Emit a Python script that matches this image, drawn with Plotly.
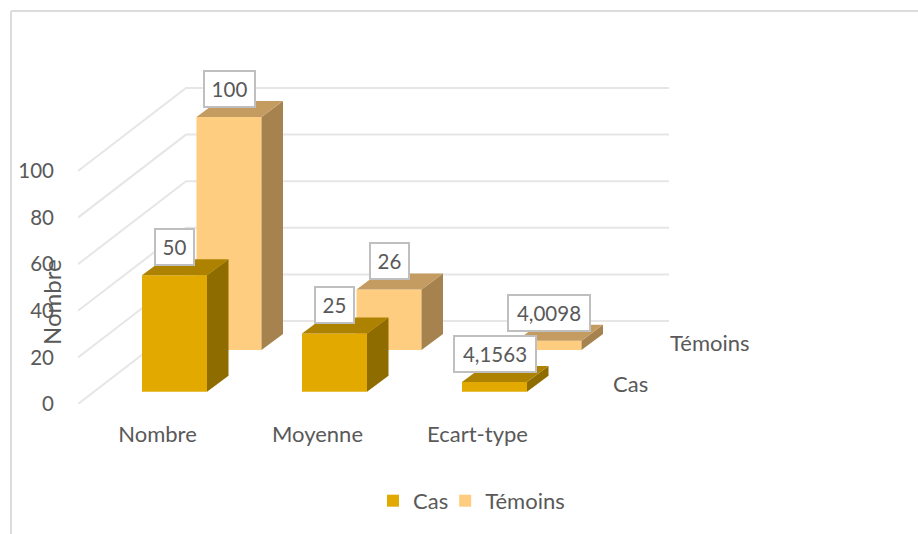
import plotly.graph_objects as go

categories = ["Nombre", "Moyenne", "Ecart-type"]
series_names = ["Cas", "Témoins"]
cas_values = [50, 25, 4.1563]
temoins_values = [100, 26, 4.0098]
cas_labels = ["50", "25", "4,1563"]
temoins_labels = ["100", "26", "4,0098"]
y_ticks = [0, 20, 40, 60, 80, 100]

W, H = 918, 534
L, R, T, B = 78, 760, 60, 404   # plot-area pixels
PX_X = 160.0                    # pixels per category
PX_Y = 2.33                     # pixels per value unit
X0 = 157.5                      # pixel of category 0 tick
X_RANGE = [(L - X0) / PX_X, (R - X0) / PX_X]
Y_RANGE = [0, (B - T) / PX_Y]

TEXT = "#595959"
FONT = "Lato"
FS_NUM = 20.5
FS_TXT = 22
BAR_W = 65 / PX_X
DEPTH_X = 21.5 / PX_X
DEPTH_Y = 16 / PX_Y

# name: (x offset, base, front, side, top)
style = {
    "Cas": (17 / PX_X, 12.3 / PX_Y, "#E2AA00", "#8F6C00", "#AD8200"),
    "Témoins": (71.5 / PX_X, 54 / PX_Y, "#FFCD80", "#A6824F", "#C49B60"),
}


def faces(values, off, base):
    sx, sy, tx, ty = [], [], [], []
    for i, v in enumerate(values):
        xl = i + off - BAR_W / 2
        xr = i + off + BAR_W / 2
        top = base + v
        sx += [xr, xr + DEPTH_X, xr + DEPTH_X, xr, xr, None]
        sy += [base, base + DEPTH_Y, top + DEPTH_Y, top, base, None]
        tx += [xl, xr, xr + DEPTH_X, xl + DEPTH_X, xl, None]
        ty += [top, top, top + DEPTH_Y, top + DEPTH_Y, top, None]
    return sx, sy, tx, ty


fig = go.Figure()

# Floor-and-wall gridlines
grid_x, grid_y = [], []
wall_x0 = (186 - X0) / PX_X
wall_x1 = (669 - X0) / PX_X
wall_dy = 83 / PX_Y
for t in y_ticks:
    grid_x += [X_RANGE[0], wall_x0, wall_x1, None]
    grid_y += [t, t + wall_dy, t + wall_dy, None]
fig.add_trace(go.Scatter(x=grid_x, y=grid_y, mode="lines", showlegend=False,
                         line=dict(color="#E6E6E6", width=2), hoverinfo="skip",
                         cliponaxis=False))

# Témoins is behind (x2/y2), Cas in front (x3/y3)
for name, values, xa, ya in [("Témoins", temoins_values, "x2", "y2"),
                             ("Cas", cas_values, "x3", "y3")]:
    off, base, front, side, top = style[name]
    fig.add_trace(go.Bar(x=[i + off for i in range(len(categories))], y=values,
                         base=[base] * len(values), width=BAR_W, name=name,
                         marker=dict(color=front, line=dict(width=0)),
                         xaxis=xa, yaxis=ya, legendrank=1 if name == "Cas" else 2))
    sx, sy, tx, ty = faces(values, off, base)
    for px, py, col in [(sx, sy, side), (tx, ty, top)]:
        fig.add_trace(go.Scatter(x=px, y=py, mode="lines", fill="toself", fillcolor=col,
                                 line=dict(width=0, color=col), showlegend=False,
                                 hoverinfo="skip", xaxis=xa, yaxis=ya, cliponaxis=False))

axis_common = dict(showgrid=False, zeroline=False, showline=False, ticks="")
fig.update_layout(
    width=W, height=H, autosize=False,
    margin=dict(l=L, r=W - R, t=T, b=H - B, autoexpand=False),
    paper_bgcolor="white", plot_bgcolor="rgba(0,0,0,0)",
    font=dict(family=FONT, size=FS_NUM, color=TEXT),
    barmode="overlay",
    xaxis=dict(range=X_RANGE, tickmode="array", tickvals=list(range(len(categories))),
               ticktext=categories, ticklabelstandoff=15, tickfont=dict(size=FS_TXT),
               **axis_common),
    yaxis=dict(range=Y_RANGE, tickmode="array", tickvals=y_ticks,
               ticklabelstandoff=23, tickfont=dict(size=FS_NUM), **axis_common),
    xaxis2=dict(range=X_RANGE, overlaying="x", visible=False),
    yaxis2=dict(range=Y_RANGE, overlaying="y", visible=False),
    xaxis3=dict(range=X_RANGE, overlaying="x", visible=False),
    yaxis3=dict(range=Y_RANGE, overlaying="y", visible=False),
    legend=dict(orientation="h", xref="container", yref="container", x=0.518, y=0.062,
                xanchor="center", yanchor="middle", font=dict(size=FS_TXT, color=TEXT),
                bgcolor="rgba(0,0,0,0)", traceorder="normal", indentation=-8),
    shapes=[
        dict(type="line", xref="paper", yref="paper", layer="below",
             x0=(11 - L) / (R - L), x1=(W - L) / (R - L),
             y0=(B - 11) / (B - T), y1=(B - 11) / (B - T),
             line=dict(color="#DCDCDC", width=2)),
        dict(type="line", xref="paper", yref="paper", layer="below",
             x0=(11 - L) / (R - L), x1=(11 - L) / (R - L),
             y0=(B - 11) / (B - T), y1=(B - H) / (B - T),
             line=dict(color="#DCDCDC", width=2)),
    ],
)

# Value labels in white boxes
annotations = []
label_widths = {2: 27, 3: 39, 6: 70}
for name, values, labels in [("Témoins", temoins_values, temoins_labels),
                             ("Cas", cas_values, cas_labels)]:
    off, base, *_ = style[name]
    for i, (v, lab) in enumerate(zip(values, labels)):
        annotations.append(dict(
            x=i + off, y=base + v, xref="x", yref="y", text=lab, showarrow=False,
            yanchor="middle", xanchor="center", yshift=28, width=label_widths[len(lab)],
            height=24, bgcolor="white", bordercolor="#BFBFBF", borderwidth=2, borderpad=5,
            font=dict(size=FS_NUM, color=TEXT, family=FONT)))

# Depth-axis labels and rotated value-axis title
for text, px, py in [("Témoins", 709.5, 342), ("Cas", 630.3, 383)]:
    annotations.append(dict(x=(px - X0) / PX_X, y=(B - py) / PX_Y, xref="x", yref="y",
                            text=text, showarrow=False, xanchor="center", yanchor="middle",
                            font=dict(size=FS_TXT, color=TEXT, family=FONT)))
annotations.append(dict(x=(51 - L) / (R - L), y=(B - 302) / (B - T), xref="paper", yref="paper",
                        text="Nombre", textangle=-90, showarrow=False, xanchor="center",
                        yanchor="middle", font=dict(size=24, color=TEXT, family=FONT)))
fig.update_layout(annotations=annotations)

fig.write_html("out.html", config={"displayModeBar": False},
               post_script="document.body.style.margin='0';")
